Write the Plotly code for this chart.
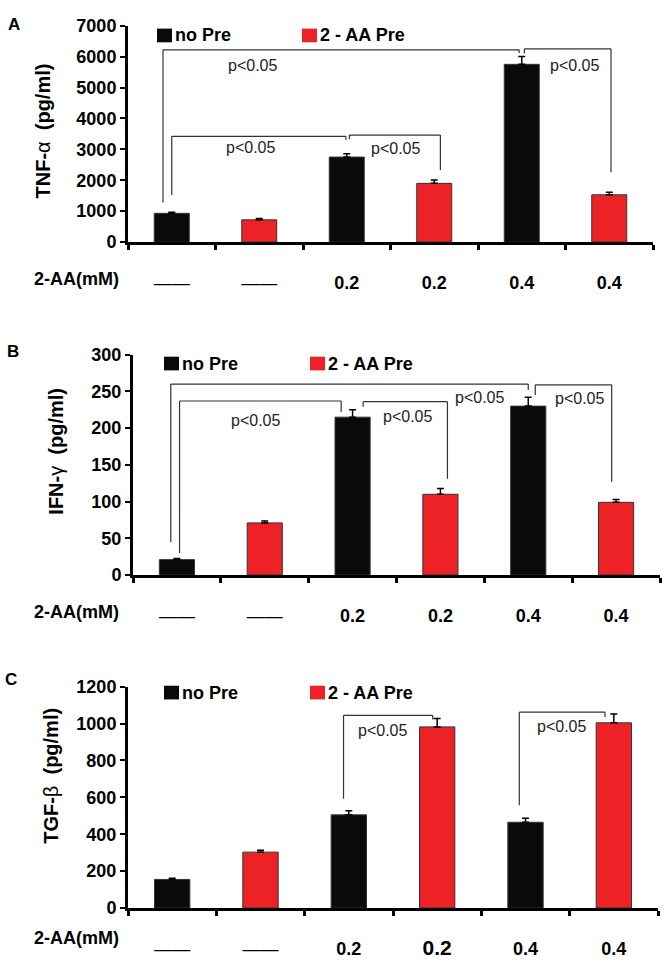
import plotly.graph_objects as go

## Data
groups = ["ctrl", "ctrl_pre", "aa02", "aa02_pre", "aa04", "aa04_pre"]
dose_labels = ["——", "——", "<b>0.2</b>", "<b>0.2</b>", "<b>0.4</b>", "<b>0.4</b>"]
dose_labels_c = ["——", "——", "<b>0.2</b>", "<b><span style='font-size:21px'>0.2</span></b>", "<b>0.4</b>", "<b>0.4</b>"]
no_pre_idx = [0, 2, 4]
pre_idx = [1, 3, 5]

tnf_mean = [930, 720, 2750, 1900, 5750, 1530]
tnf_err = [35, 40, 110, 110, 250, 80]
ifn_mean = [21, 71, 215, 110, 230, 99]
ifn_err = [1.5, 2.5, 10, 8, 12, 4]
tgf_mean = [155, 303, 505, 982, 465, 1004]
tgf_err = [7, 10, 22, 45, 22, 48]

## Styling
FONT = "Liberation Sans, Arial, sans-serif"
BLACK = "#0a0a0a"
RED = "#ec2227"
LINE = "#333333"

# panel setup: (letter, means, errors, y max, dtick, y title, tick labels)
panels = [
    ("A", tnf_mean, tnf_err, 7000, 1000, "<b>TNF-</b>α  <b>(pg/ml)</b>", dose_labels),
    ("B", ifn_mean, ifn_err, 300, 50, "<b>IFN-</b>γ  <b>(pg/ml)</b>", dose_labels),
    ("C", tgf_mean, tgf_err, 1200, 200, "<b>TGF-</b>β  <b>(pg/ml)</b>", dose_labels_c),
]

# pixel layout of each panel: x0, x1, y_top, y_bottom
W, H = 668, 966
boxes = [(128, 653, 16, 237), (133, 660, 352, 577), (128, 658, 691, 917)]

# significance brackets: (x left, y left end, x right, y right end, y top), data units
brackets = [
    [(-0.1, 1280, 3.97, 6120, 6220), (4.03, 6100, 5.02, 2260, 6250),
     (0.0, 1520, 1.99, 3300, 3420), (2.03, 3330, 3.07, 2330, 3460)],
    [(-0.07, 45, 4.0, 252, 260), (4.08, 245, 4.95, 127, 259),
     (0.03, 30, 1.87, 222, 237), (2.12, 229, 3.08, 131, 236)],
    [(1.94, 593, 2.95, 1022, 1045), (3.93, 557, 4.9, 1035, 1062)],
]
p_labels = [
    [(0.92, 5700), (4.6, 5700), (0.9, 3070), (2.56, 3020)],
    [(0.9, 211), (2.63, 216), (3.44, 242), (4.58, 240)],
    [(2.38, 965), (4.41, 982)],
]
legend_y = [26, 361, 697]
legend_x = [(157, 302), (164, 310), (164, 310)]
row_y = [275, 615, 948]
ytitle_pos = [(43, 123), (56, 451), (51, 782)]
letter_pos = [(14, 15), (13, 349), (11, 684)]

fig = go.Figure()
shapes = []
annotations = []

for k, (letter, mean, err, ymax, dtick, ytitle, ticks) in enumerate(panels):
    xa = "x" if k == 0 else f"x{k + 1}"
    ya = "y" if k == 0 else f"y{k + 1}"
    for idx, color, name in [(no_pre_idx, BLACK, "no Pre"), (pre_idx, RED, "2-AA Pre")]:
        fig.add_trace(go.Bar(
            x=[groups[i] for i in idx],
            y=[mean[i] for i in idx],
            error_y=dict(type="data", symmetric=False,
                         array=[err[i] for i in idx], arrayminus=[0] * len(idx),
                         color="black", thickness=1.5, width=3.5),
            marker=dict(color=color, line=dict(color=LINE, width=1)),
            width=0.4, name=name, xaxis=xa, yaxis=ya, showlegend=False,
        ))

    x0, x1, yt, yb = boxes[k]
    axis_x = dict(
        domain=[x0 / W, x1 / W], anchor=ya, type="category",
        categoryorder="array", categoryarray=groups,
        tickmode="array", tickvals=groups, ticktext=ticks, tickson="boundaries",
        ticks="outside", ticklen=5, tickwidth=3, tickcolor="black",
        showline=True, linewidth=3, linecolor="black", showgrid=False,
        tickfont=dict(family=FONT, size=18, color="black"), ticklabelstandoff=22,
        range=[-0.5, 5.5],
    )
    axis_y = dict(
        domain=[1 - yb / H, 1 - yt / H], anchor=xa, range=[0, ymax], dtick=dtick,
        tickformat="d", ticks="outside", ticklen=5, tickwidth=2, tickcolor="black",
        showline=True, linewidth=3, linecolor="black", showgrid=False, zeroline=False,
        tickfont=dict(family=FONT, size=18, color="black", weight="bold"),
    )
    fig.update_layout({("xaxis" if k == 0 else f"xaxis{k + 1}"): axis_x,
                       ("yaxis" if k == 0 else f"yaxis{k + 1}"): axis_y})

    # brackets
    for (xl, yl, xr, yr, top) in brackets[k]:
        for (a, b, c, d) in [(xl, yl, xl, top), (xl, top, xr, top), (xr, top, xr, yr)]:
            shapes.append(dict(type="line", xref=xa, yref=ya, x0=a, y0=b, x1=c, y1=d,
                               line=dict(color=LINE, width=1.2)))
    for (px, py) in p_labels[k]:
        annotations.append(dict(xref=xa, yref=ya, x=px, y=py, text="p&lt;0.05",
                                showarrow=False, font=dict(family=FONT, size=16, color="#222")))

    # legend keys
    ly = 1 - legend_y[k] / H
    for lx, color, label in [(legend_x[k][0], BLACK, "<b>no Pre</b>"),
                             (legend_x[k][1], RED, "<b>2 - AA Pre</b>")]:
        shapes.append(dict(type="rect", xref="paper", yref="paper",
                           x0=lx / W, x1=(lx + 15) / W, y0=ly - 7 / H, y1=ly + 7 / H,
                           fillcolor=color, line=dict(width=0)))
        annotations.append(dict(xref="paper", yref="paper", x=(lx + 16) / W, y=ly,
                                xanchor="left", yanchor="middle", text=label, showarrow=False,
                                font=dict(family=FONT, size=18, color="black")))

    # row label, y title, panel letter
    annotations.append(dict(xref="paper", yref="paper", x=32 / W, y=1 - row_y[k] / H,
                            xanchor="left", yanchor="middle", text="<b>2-AA(mM)</b>",
                            showarrow=False, font=dict(family=FONT, size=18, color="black")))
    tx, ty = ytitle_pos[k]
    annotations.append(dict(xref="paper", yref="paper", x=tx / W, y=1 - ty / H,
                            xanchor="center", yanchor="middle",
                            text=ytitle, textangle=-90, showarrow=False,
                            font=dict(family=FONT, size=20, color="black")))
    lx, lyy = letter_pos[k]
    annotations.append(dict(xref="paper", yref="paper", x=lx / W, y=1 - lyy / H,
                            xanchor="center", yanchor="middle",
                            text=f"<b>{letter}</b>", showarrow=False,
                            font=dict(family=FONT, size=17, color="black")))

fig.update_layout(
    width=W, height=H, margin=dict(l=0, r=0, t=0, b=0),
    paper_bgcolor="white", plot_bgcolor="white", barmode="overlay",
    showlegend=False, shapes=shapes, annotations=annotations,
)

fig.write_html("out.html", config={"displayModeBar": False},
               post_script="document.body.style.margin='0';document.body.style.overflow='hidden';")
